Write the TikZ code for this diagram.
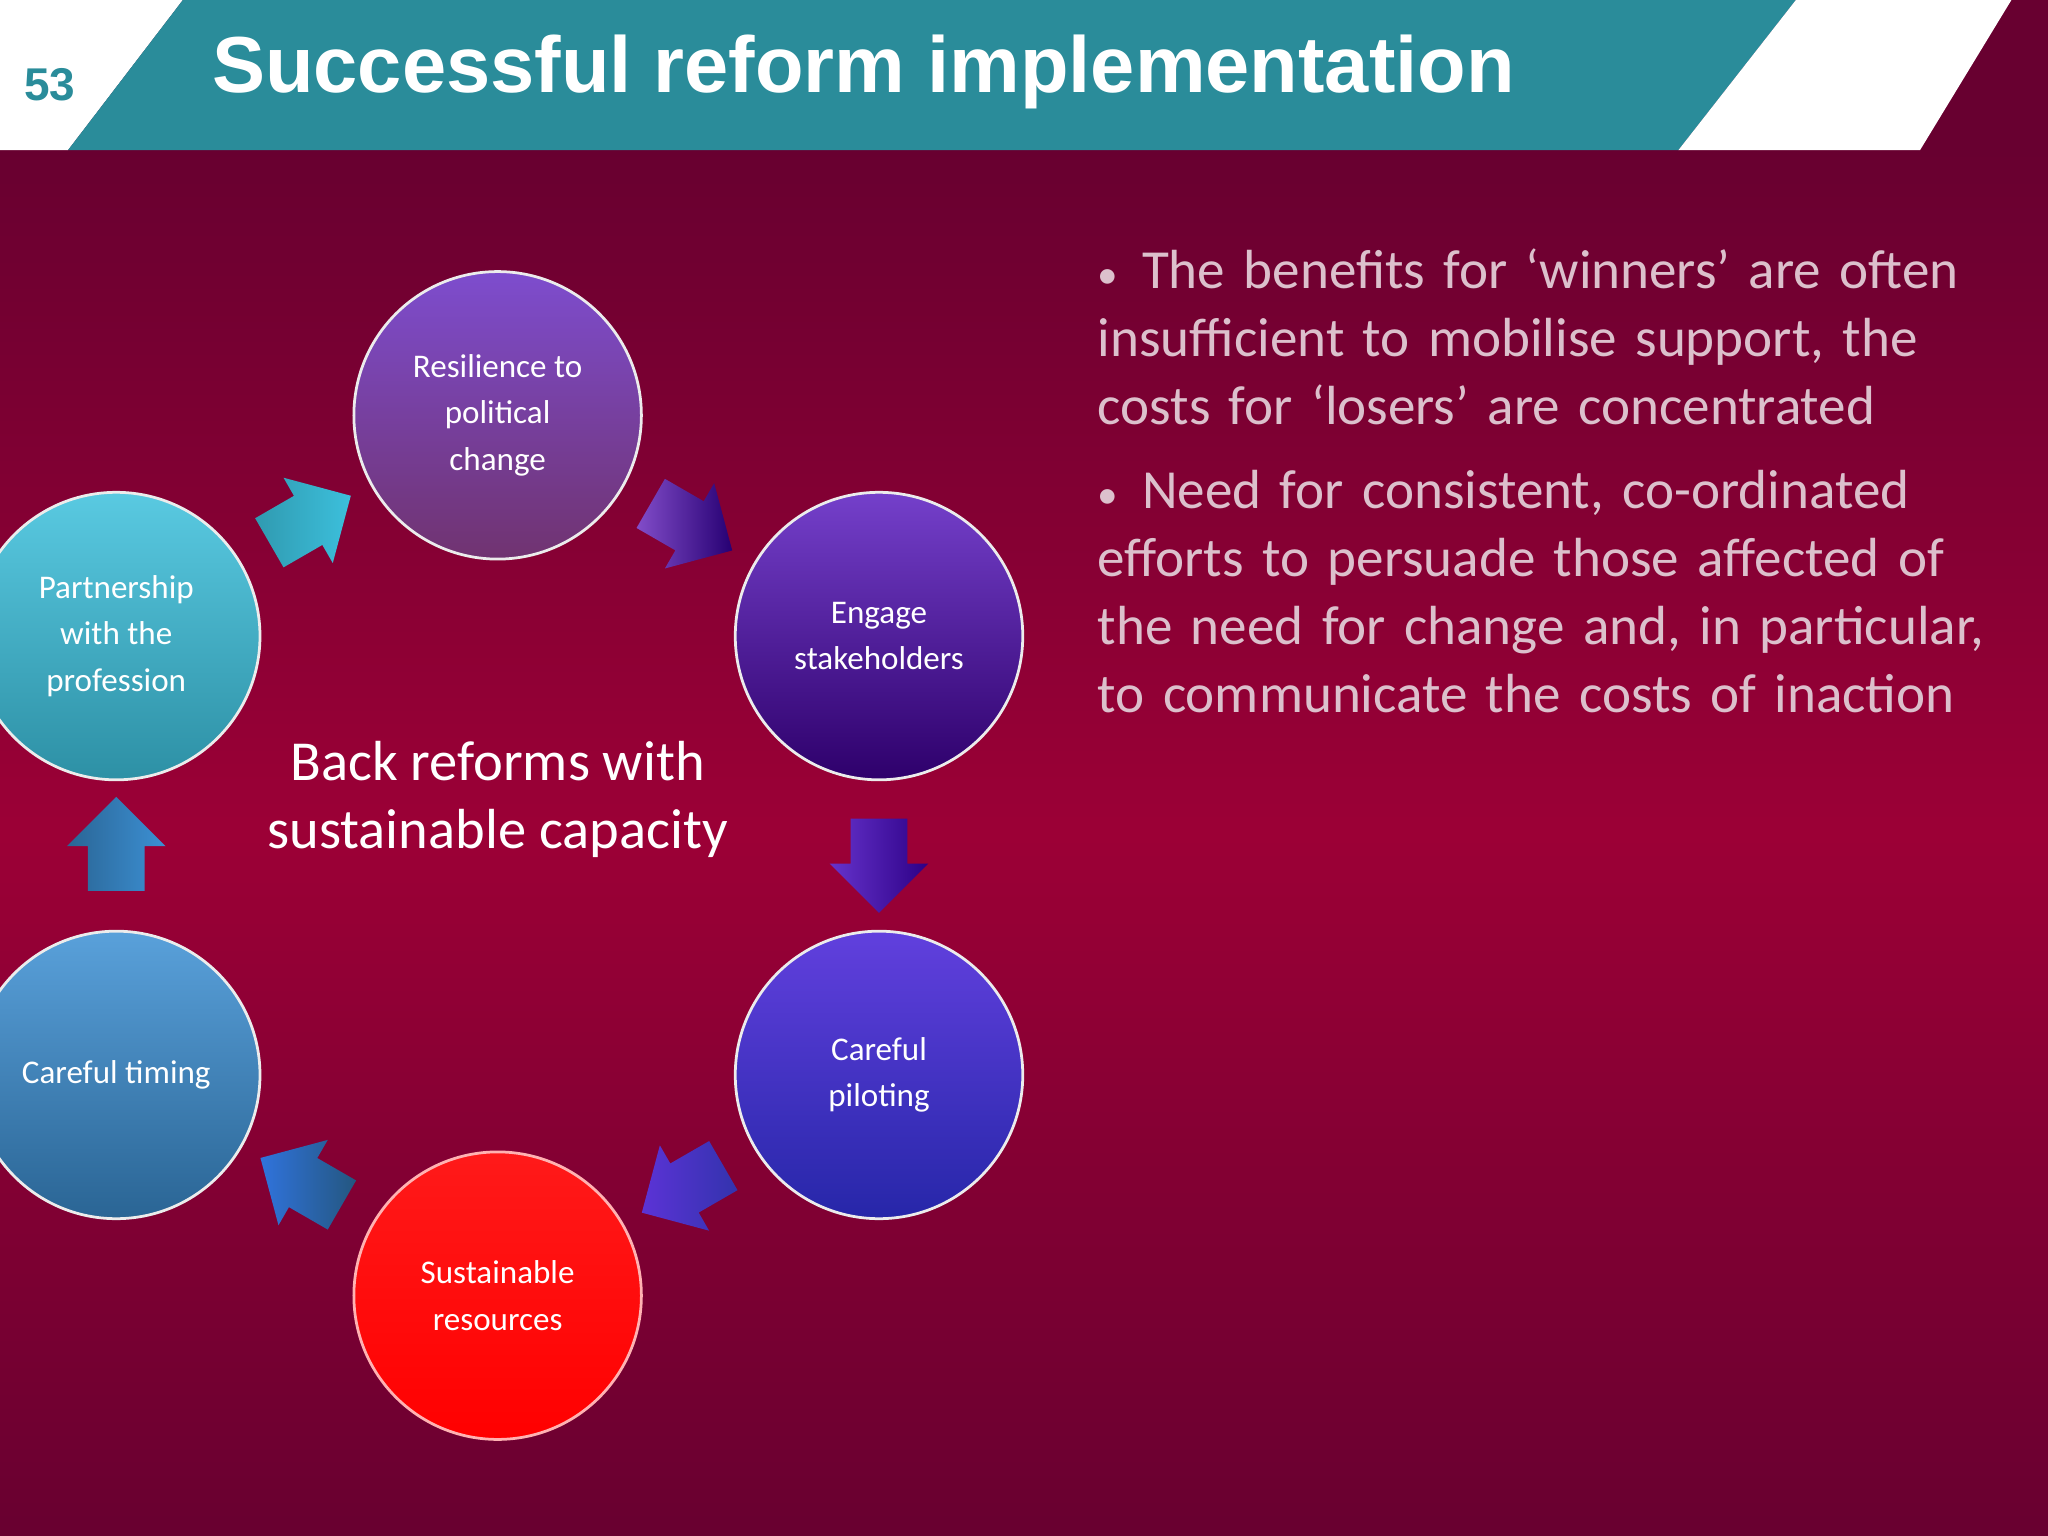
\documentclass[tikz,border=0pt]{standalone}
\usepackage{fontspec}
\setmainfont{Carlito}
\newfontfamily\titlefont{Liberation Sans}
\usetikzlibrary{shapes.arrows}
\definecolor{bgdark}{HTML}{680030}
\definecolor{bgmid}{HTML}{9C0036}
\definecolor{teal}{HTML}{2A8C9A}
\definecolor{bul}{HTML}{DCC0CC}
\definecolor{pcyan}{HTML}{3CC0DC}
\definecolor{tblue}{HTML}{3C90D4}
\tikzset{
  bubble/.style={circle,minimum size=2.2cm,inner sep=0pt,align=center,text=white,
    font=\fontsize{7.2pt}{10.2pt}\selectfont,draw=white!85!gray,line width=0.6pt},
  blk/.style={single arrow,minimum height=0.72cm,minimum width=0.74cm,
    single arrow head extend=0.16cm,inner xsep=0pt,inner ysep=0.21cm,shading=axis,shading angle=0},
}
\begin{document}
\begin{tikzpicture}[x=0.01cm,y=-0.01cm]
\useasboundingbox (0,0) rectangle (1568,1176);
% background
\shade[top color=bgdark,bottom color=bgmid] (0,115) rectangle (1568,640);
\shade[top color=bgmid,bottom color=bgdark] (0,640) rectangle (1568,1176);
\fill[bgdark] (0,0) rectangle (1568,115);
\fill[white] (0,0) -- (140,0) -- (52,115) -- (0,115) -- cycle;
\fill[teal] (140,0) -- (1375,0) -- (1285,115) -- (52,115) -- cycle;
\fill[white] (1375,0) -- (1540,0) -- (1470,115) -- (1285,115) -- cycle;
\node[font=\titlefont\bfseries\fontsize{10pt}{12pt}\selectfont,text=teal] (num) at (38,65) {53};
\node[font=\titlefont\bfseries\fontsize{17.3pt}{20pt}\selectfont,text=white,anchor=west] (title) at (150,55) {Successful reform implementation};
% circles
\node[bubble,top color=violet!55!blue!70!white,bottom color=violet!60!black!80] (res) at (381,318) {Resilience to\\political\\change};
\node[bubble,top color=blue!45!violet!75!white,bottom color=blue!40!violet!60!black] (eng) at (673,487) {Engage\\stakeholders};
\node[bubble,top color=blue!65!violet!75!white,bottom color=blue!60!black!85] (pil) at (673,823) {Careful\\piloting};
\node[bubble,top color=red!90!white,bottom color=red,draw=red!30!white] (sus) at (381,992) {Sustainable\\resources};
\node[bubble,top color=tblue!85!white,bottom color=tblue!70!black] (tim) at (89,823) {Careful timing};
\node[bubble,top color=pcyan!85!white,bottom color=pcyan!75!black] (par) at (89,487) {Partnership\\with the\\profession};
% arrows
\node[blk,rotate=30,left color=pcyan!80!black,right color=pcyan] (a1) at (228,403) {};
\node[blk,rotate=-30,left color=violet!60!blue!70!white,right color=violet!50!blue!60!black] (a2) at (520,398) {};
\node[blk,rotate=-90,left color=blue!50!violet!80!white,right color=blue!50!violet!70!black] (a3) at (673,652) {};
\node[blk,rotate=-150,left color=blue!60!violet!80!white,right color=blue!60!black!80] (a4) at (532,905) {};
\node[blk,rotate=150,left color=tblue!80!blue,right color=tblue!60!black] (a5) at (240,910) {};
\node[blk,rotate=90,left color=tblue!70!black,right color=tblue] (a6) at (89,657) {};
% centre text
\node[align=center,text=white,font=\fontsize{12.3pt}{14.8pt}\selectfont] (ctr) at (381,612) {Back reforms with\\sustainable capacity};
% bullets
\node[anchor=north west,text=bul,text width=7.0cm,align=left,
  font=\fontsize{12pt}{14.8pt}\selectfont] (txt) at (828,178) {%
  \hangindent=0.34cm\hangafter=1 \makebox[0.34cm][l]{\fontsize{9pt}{9pt}\selectfont•}The benefits for ‘winners’ are often\\insufficient to mobilise support, the\\costs for ‘losers’ are concentrated\par\vspace{3.5pt}
  \hangindent=0.34cm\hangafter=1 \makebox[0.34cm][l]{\fontsize{9pt}{9pt}\selectfont•}Need for consistent, co-ordinated\\efforts to persuade those affected of\\the need for change and, in particular,\\to communicate the costs of inaction\par};
\end{tikzpicture}
\end{document}
